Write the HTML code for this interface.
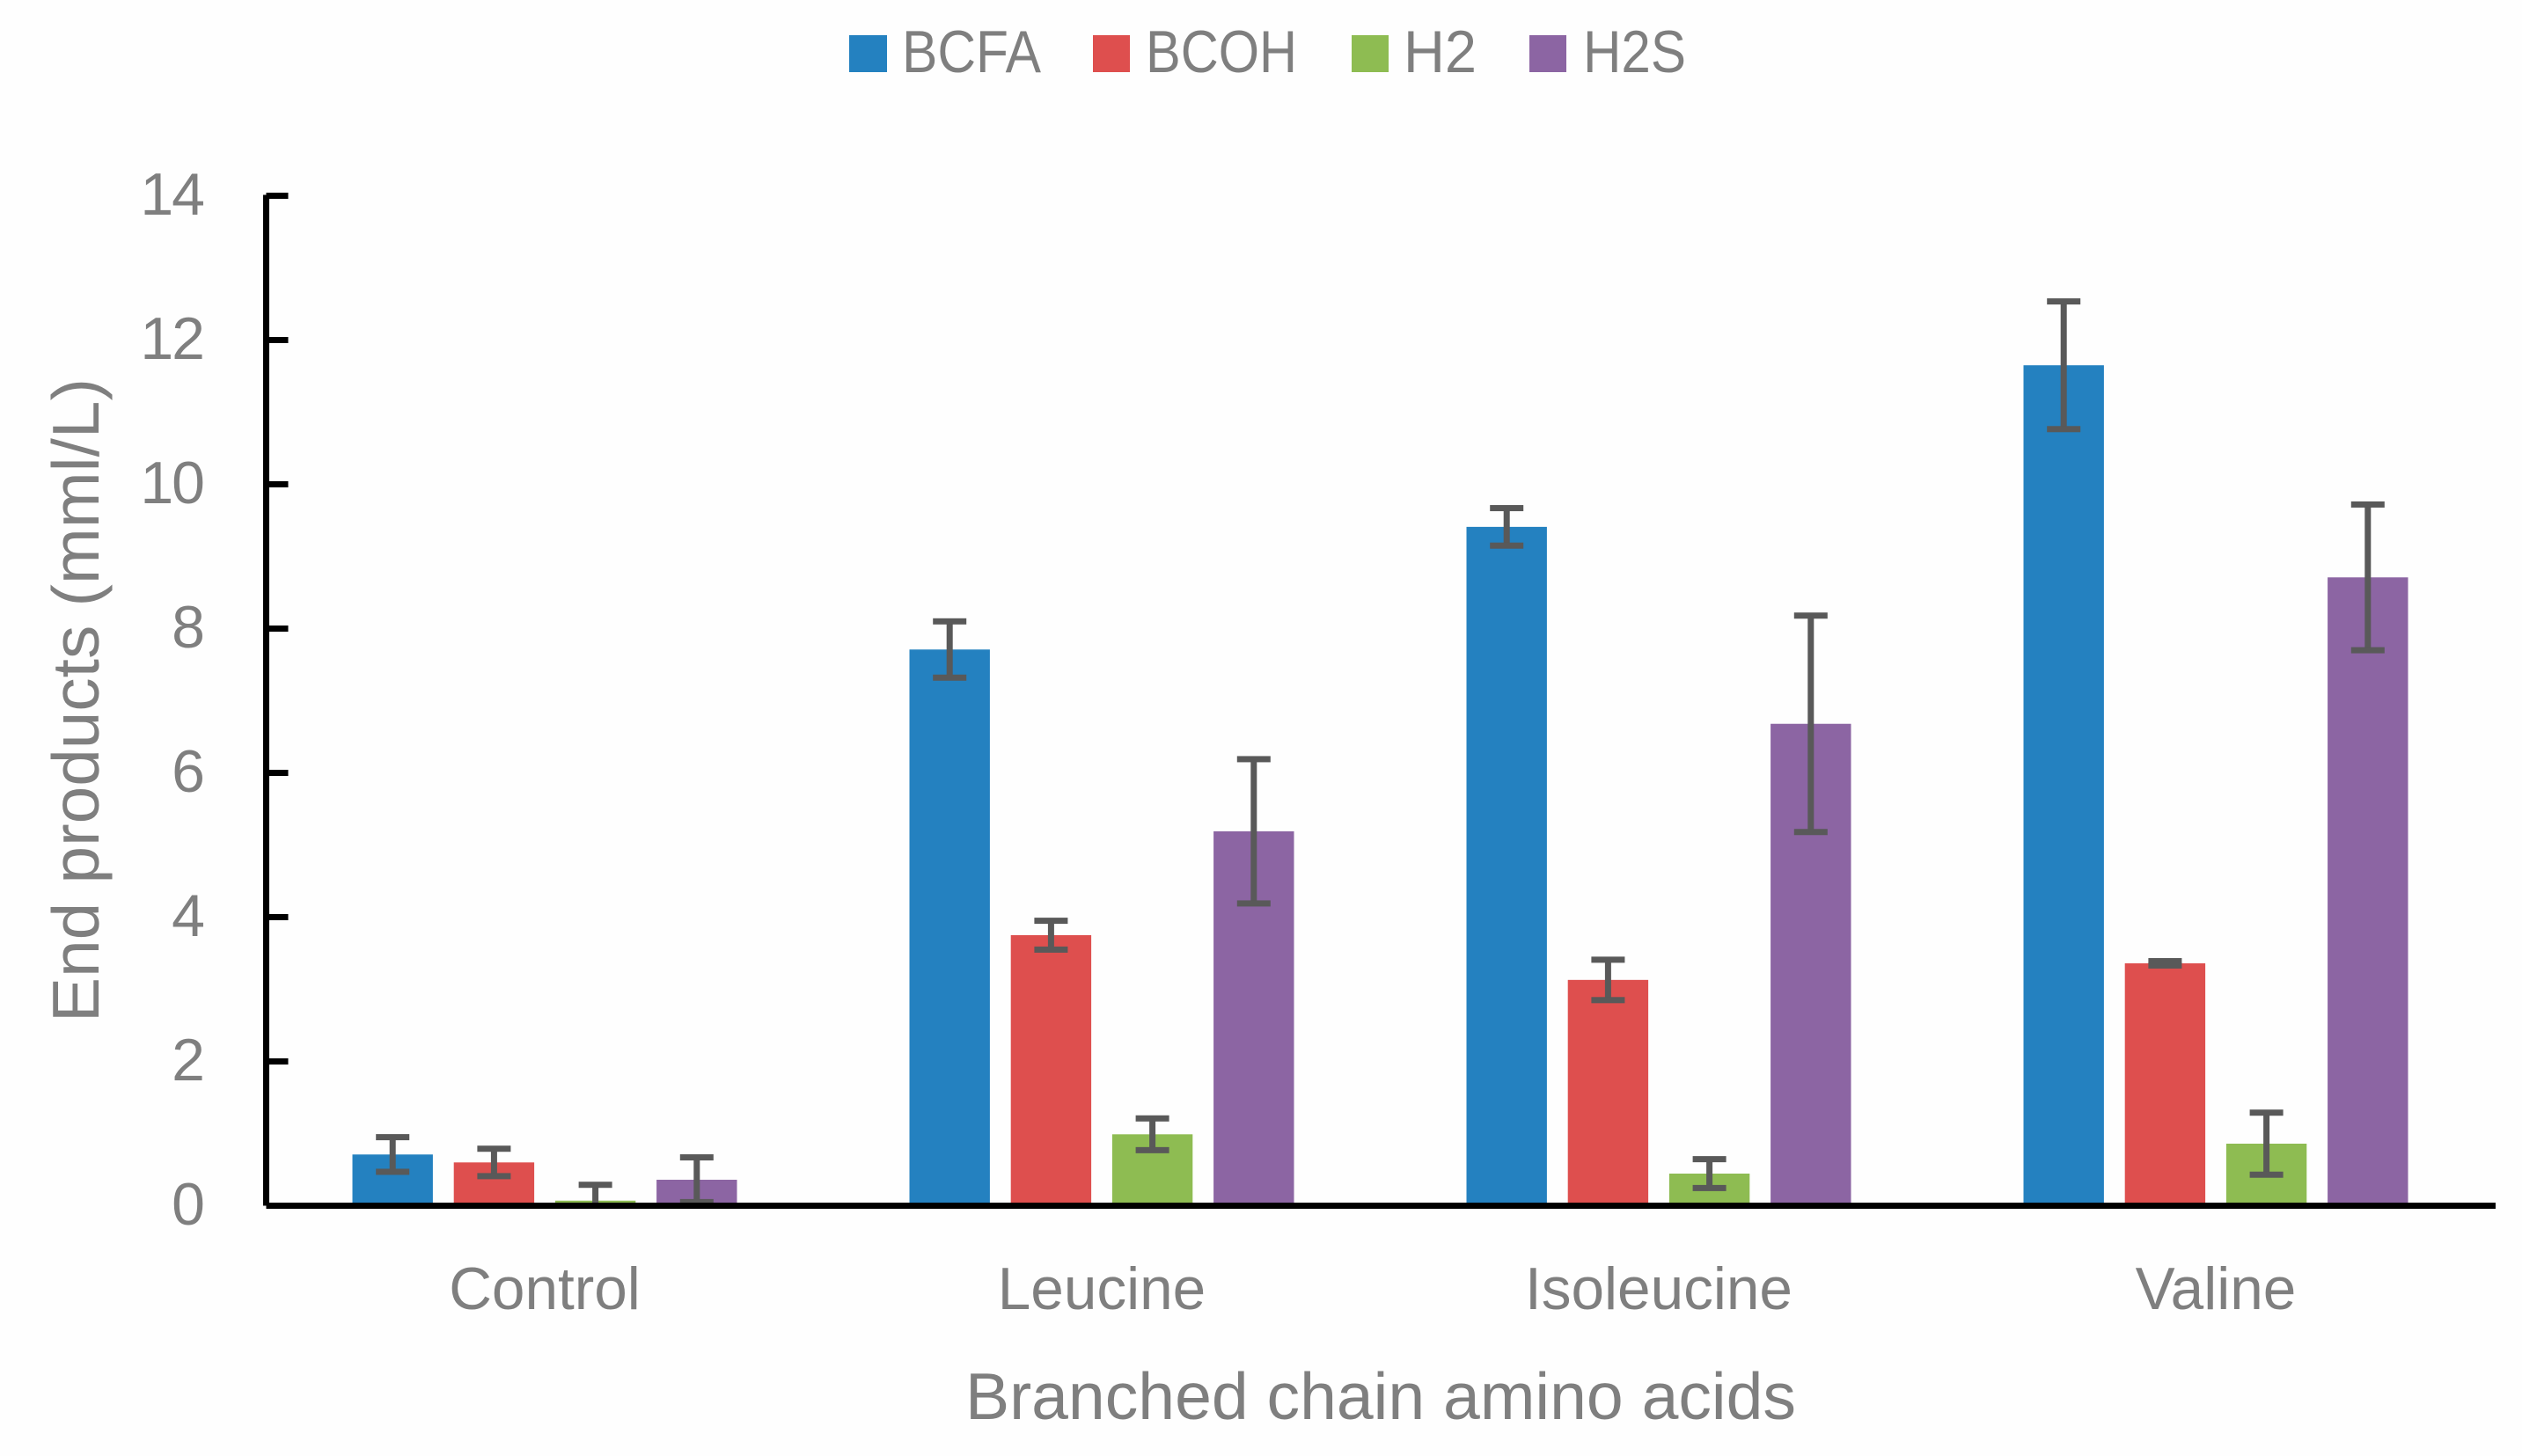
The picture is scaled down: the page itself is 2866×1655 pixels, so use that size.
<!DOCTYPE html>
<html lang="en">
<head>
<meta charset="utf-8">
<title>End products by branched chain amino acid</title>
<style>
  html, body { margin: 0; padding: 0; background: #fefefe; }
  svg { display: block; }
  text { font-family: "Liberation Sans", sans-serif; fill: #7f7f7f; }
</style>
</head>
<body>
<svg id="chart" xmlns="http://www.w3.org/2000/svg" width="2866" height="1655" viewBox="0 0 2866 1655">
  <rect x="0" y="0" width="2866" height="1655" fill="#fefefe"/>
  <g id="legend">
    <g>
      <rect x="965" y="40" width="43" height="42" fill="#2481c0"/>
      <text x="1025" y="82" font-size="68" textLength="158" lengthAdjust="spacingAndGlyphs">BCFA</text>
    </g>
    <g>
      <rect x="1242" y="40" width="42" height="42" fill="#de4f4e"/>
      <text x="1302" y="82" font-size="68" textLength="172" lengthAdjust="spacingAndGlyphs">BCOH</text>
    </g>
    <g>
      <rect x="1536" y="40" width="42" height="42" fill="#8ebc52"/>
      <text x="1595" y="82" font-size="68" textLength="83" lengthAdjust="spacingAndGlyphs">H2</text>
    </g>
    <g>
      <rect x="1738" y="40" width="42" height="42" fill="#8c65a3"/>
      <text x="1799" y="82" font-size="68" textLength="117" lengthAdjust="spacingAndGlyphs">H2S</text>
    </g>
  </g>
  <g id="marks"></g>
  <g id="axes"></g>
  <text transform="translate(112 1162) rotate(-90)" x="0" y="0" font-size="75" textLength="732" lengthAdjust="spacingAndGlyphs">End products (mml/L)</text>
  <text x="1097" y="1613" font-size="75" textLength="944" lengthAdjust="spacingAndGlyphs">Branched chain amino acids</text>
</svg>
<script>
const categories = ["Control", "Leucine", "Isoleucine", "Valine"];
const seriesNames = ["BCFA", "BCOH", "H2", "H2S"];
const yTicks = [0, 2, 4, 6, 8, 10, 12, 14];

const bcfaValues = [0.71, 7.71, 9.41, 11.65];
const bcohValues = [0.60, 3.75, 3.13, 3.36];
const h2Values = [0.07, 0.99, 0.445, 0.86];
const h2sValues = [0.36, 5.19, 6.68, 8.71];

const bcfaErrors = [0.24, 0.39, 0.26, 0.885];
const bcohErrors = [0.19, 0.20, 0.28, 0.03];
const h2Errors = [0.22, 0.22, 0.20, 0.43];
const h2sErrors = [0.31, 1.00, 1.50, 1.01];

const seriesValues = [bcfaValues, bcohValues, h2Values, h2sValues];
const seriesErrors = [bcfaErrors, bcohErrors, h2Errors, h2sErrors];
const seriesColors = ["#2481c0", "#de4f4e", "#8ebc52", "#8c65a3"];

const SVG_NS = "http://www.w3.org/2000/svg";
const marks = document.getElementById("marks");
const axes = document.getElementById("axes");

const plotLeft = 302.5;
const plotRight = 2836;
const yZero = 1370.5;
const yMaxValue = 14;
const yTopPx = 222.5;
const barWidth = 91.4;
const barPitch = 115.2;
const capWidth = 38;
const stroke = 7;

function yScale(v) {
  return yZero - (v / yMaxValue) * (yZero - yTopPx);
}
function groupCenter(i) {
  const band = 633;
  return plotLeft + 316.5 + band * i;
}
function barCenter(i, s) {
  return groupCenter(i) + (s - (seriesNames.length - 1) / 2) * barPitch;
}
function kebab(s) {
  return s.toLowerCase();
}
function make(tag, parent) {
  const el = document.createElementNS(SVG_NS, tag);
  parent.appendChild(el);
  return el;
}
function setRect(el, x, y, w, h, fill) {
  el.setAttribute("x", x);
  el.setAttribute("y", y);
  el.setAttribute("width", w);
  el.setAttribute("height", h);
  el.setAttribute("fill", fill);
}

seriesNames.forEach(function (name, s) {
  const group = make("g", marks);
  
  
  categories.forEach(function (cat, i) {
    const v = seriesValues[s][i];
    const e = seriesErrors[s][i];
    const cx = barCenter(i, s);

    const bar = make("rect", group);
    setRect(bar, cx - barWidth / 2, yScale(v), barWidth, yZero - yScale(v), seriesColors[s]);
    
    

    const hi = yScale(v + e);
    const lo = yScale(Math.max(0, v - e));

    const stem = make("rect", group);
    setRect(stem, cx - stroke / 2, hi, stroke, lo - hi, "#595959");
    
    

    const capTop = make("rect", group);
    setRect(capTop, cx - capWidth / 2, hi - stroke / 2, capWidth, stroke, "#595959");
    
    

    const capBottom = make("rect", group);
    setRect(capBottom, cx - capWidth / 2, lo - stroke / 2, capWidth, stroke, "#595959");
    
    
  });
});

const yAxisLine = make("rect", axes);
setRect(yAxisLine, plotLeft - stroke / 2, yTopPx - 1, stroke, yZero - yTopPx + 1, "#000");



const xAxisLine = make("rect", axes);
setRect(xAxisLine, plotLeft, yZero - stroke / 2, plotRight - plotLeft, stroke, "#000");



yTicks.forEach(function (t) {
  const tick = make("rect", axes);
  setRect(tick, plotLeft, yScale(t) - stroke / 2, 25, stroke, "#000");
  
  

  const label = make("text", axes);
  label.setAttribute("x", 231);
  label.setAttribute("y", yScale(t) + 21.5);
  label.setAttribute("text-anchor", "end");
  label.setAttribute("font-size", "68");
  label.setAttribute("letter-spacing", "-2");
  label.textContent = t;
  
  
});

categories.forEach(function (cat, i) {
  const label = make("text", axes);
  label.setAttribute("x", groupCenter(i));
  label.setAttribute("y", 1488);
  label.setAttribute("text-anchor", "middle");
  label.setAttribute("font-size", "67.5");
  label.textContent = cat;
  
  
});
</script>
</body>
</html>
